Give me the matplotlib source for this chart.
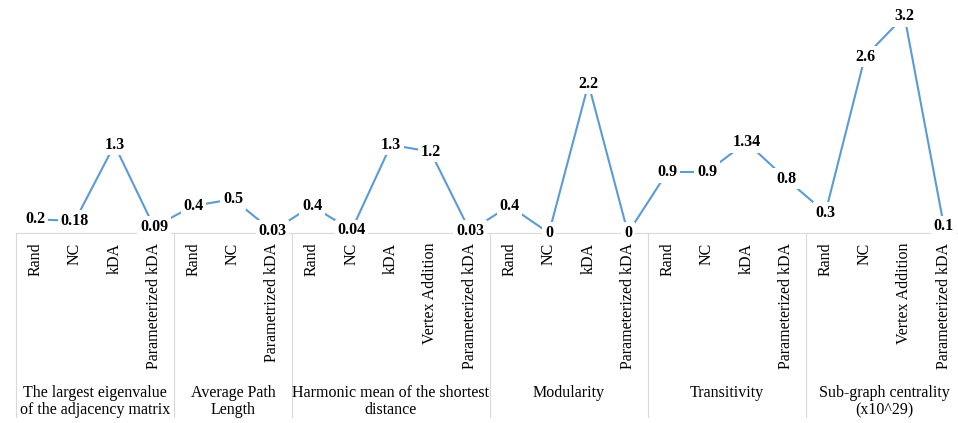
import matplotlib
matplotlib.use('Agg')
import matplotlib.pyplot as plt
from matplotlib import transforms

# data
groups = ['The largest eigenvalue\nof the adjacency matrix',
          'Average Path\nLength',
          'Harmonic mean of the shortest\ndistance',
          'Modularity',
          'Transitivity',
          'Sub-graph centrality\n(x10^29)']
cats_eig = ['Rand', 'NC', 'kDA', 'Parameterized kDA']
vals_eig = [0.2, 0.18, 1.3, 0.09]
cats_apl = ['Rand', 'NC', 'Parametrized kDA']
vals_apl = [0.4, 0.5, 0.03]
cats_hm = ['Rand', 'NC', 'kDA', 'Vertex Addition', 'Parameterized kDA']
vals_hm = [0.4, 0.04, 1.3, 1.2, 0.03]
cats_mod = ['Rand', 'NC', 'kDA', 'Parameterized kDA']
vals_mod = [0.4, 0, 2.2, 0]
cats_tr = ['Rand', 'NC', 'kDA', 'Parameterized kDA']
vals_tr = [0.9, 0.9, 1.34, 0.8]
cats_sg = ['Rand', 'NC', 'Vertex Addition', 'Parameterized kDA']
vals_sg = [0.3, 2.6, 3.2, 0.1]

labels = [('0.2', '0.18', '1.3', '0.09'), ('0.4', '0.5', '0.03'),
          ('0.4', '0.04', '1.3', '1.2', '0.03'), ('0.4', '0', '2.2', '0'),
          ('0.9', '0.9', '1.34', '0.8'), ('0.3', '2.6', '3.2', '0.1')]

all_cats = [cats_eig, cats_apl, cats_hm, cats_mod, cats_tr, cats_sg]
all_vals = [vals_eig, vals_apl, vals_hm, vals_mod, vals_tr, vals_sg]

cats = [c for g in all_cats for c in g]
vals = [v for g in all_vals for v in g]
txt = [t for g in labels for t in g]
x = [i + 0.5 for i in range(len(cats))]

W, H = 958, 423
fig = plt.figure(figsize=(W / 100, H / 100), dpi=100)
x0, x1, yax = 15.7, 963.7, 233
ax = fig.add_axes([x0 / W, (H - yax) / H, (x1 - x0) / W, yax / H])
ax.set_xlim(0, len(cats))
ax.set_ylim(0, yax / 67.8)

ax.plot(x, vals, color='#5B9BD5', lw=1.5, zorder=2, clip_on=False)
for xi, v, t in zip(x, vals, txt):
    ax.text(xi, v, t, ha='center', va='center', fontsize=11.5, fontweight='bold',
            family='Liberation Serif', zorder=3,
            bbox=dict(facecolor='white', edgecolor='none', pad=1.8))

for s in ['top', 'right', 'left']:
    ax.spines[s].set_visible(False)
ax.spines['bottom'].set_color('#D9D9D9')
ax.set_yticks([])
ax.set_xticks(x)
ax.set_xticklabels(cats, rotation=90, fontsize=11.5, family='Liberation Serif')
ax.tick_params(axis='x', length=0, pad=7)

# group separators and labels
trans = transforms.blended_transform_factory(ax.transData, ax.transAxes)
bottom = -(416.7 - yax) / yax
pos = 0
ax.plot([0, 0], [0, bottom], color='#D9D9D9', lw=0.8, transform=trans, clip_on=False)
for name, g in zip(groups, all_cats):
    start = pos
    pos += len(g)
    ax.plot([pos, pos], [0, bottom], color='#D9D9D9', lw=0.8, transform=trans, clip_on=False)
    ax.text((start + pos) / 2, -(385 - yax) / yax, name, ha='center', va='top',
            fontsize=11.5, family='Liberation Serif', transform=trans, linespacing=1.1)

fig.savefig('out.png', dpi=100)
